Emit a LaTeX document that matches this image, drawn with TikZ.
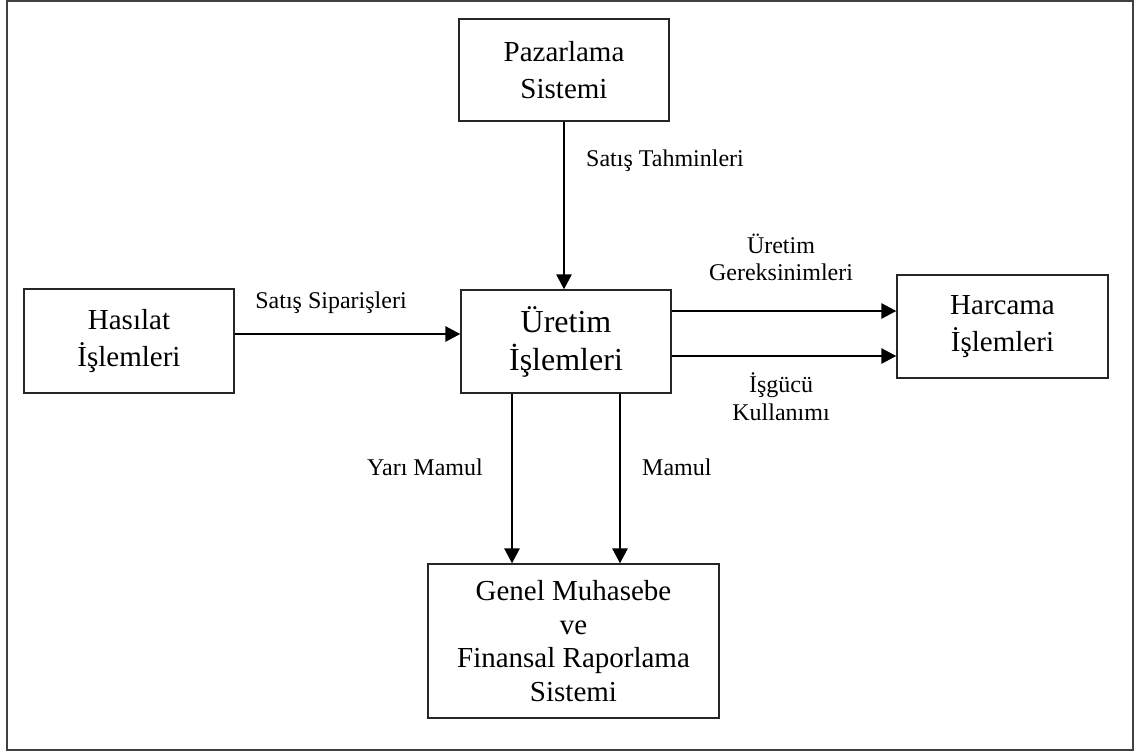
\documentclass[tikz,border=0pt]{standalone}
\usepackage{fontspec}
\setmainfont{Liberation Serif}
\usetikzlibrary{arrows.meta}
\begin{document}
\begin{tikzpicture}[x=1pt,y=-1pt,
  sysbox/.style={draw=black!85,line width=1.3pt,align=center,inner sep=0pt,
    font=\fontsize{29}{37}\selectfont},
  flow/.style={line width=2.8pt,-{Triangle[length=15pt,width=15pt]}},
  lbl/.style={font=\fontsize{24}{28}\selectfont,align=center,inner sep=0pt}]
  \useasboundingbox (0,0) rectangle (1135,753);
  \draw[line width=2pt,draw=black!75] (7,1) rectangle (1133,750);

  % subsystems
  \node[sysbox,minimum width=210pt,minimum height=102pt] (paz) at (564,70) {Pazarlama\\Sistemi};
  \node[sysbox,minimum width=210pt,minimum height=104pt] (has) at (129,341) {Hasılat\\İşlemleri};
  \node[sysbox,minimum width=210pt,minimum height=103pt,font=\fontsize{32}{38}\selectfont] (ure) at (566,341.5) {Üretim\\İşlemleri};
  \node[sysbox,minimum width=211pt,minimum height=103pt] (har) at (1002.5,326.5) {Harcama\\İşlemleri};
  \node[sysbox,minimum width=291pt,minimum height=154pt,font=\fontsize{29}{33.5}\selectfont] (gen) at (573.5,641) {Genel Muhasebe\\ve\\Finansal Raporlama\\Sistemi};

  % flows
  \draw[flow] (paz.south) -- (paz.south |- ure.north);
  \draw[flow] ([yshift=7pt]has.east) -- ([yshift=7pt]has.east -| ure.west);
  \draw[flow] ([yshift=30.5pt]ure.east) -- ([yshift=30.5pt]ure.east -| har.west);
  \draw[flow] ([yshift=-14.5pt]ure.east) -- ([yshift=-14.5pt]ure.east -| har.west);
  \draw[flow] ([xshift=-54pt]ure.south) -- ([xshift=-54pt]ure.south |- gen.north);
  \draw[flow] ([xshift=54pt]ure.south) -- ([xshift=54pt]ure.south |- gen.north);

  % flow labels
  \node[lbl,anchor=base west] (l1) at (586,166) {Satış Tahminleri};
  \node[lbl,anchor=base] (l2) at (331,308) {Satış Siparişleri};
  \node[lbl,anchor=base] (l3) at (781,253) {Üretim};
  \node[lbl,anchor=base] (l4) at (781,280) {Gereksinimleri};
  \node[lbl,anchor=base] (l5) at (781,392) {İşgücü};
  \node[lbl,anchor=base] (l6) at (781,420) {Kullanımı};
  \node[lbl,anchor=base east] (l7) at (483,475) {Yarı Mamul};
  \node[lbl,anchor=base west] (l8) at (642,475) {Mamul};
\end{tikzpicture}
\end{document}
